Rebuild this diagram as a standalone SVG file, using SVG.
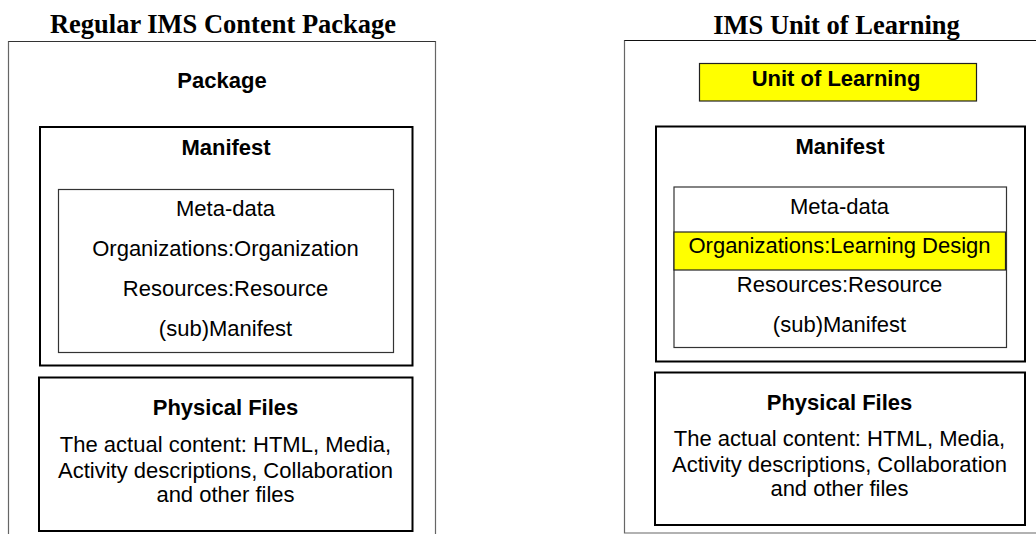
<svg xmlns="http://www.w3.org/2000/svg" width="1036" height="534" viewBox="0 0 1036 534">
<style>
.title{font-family:"Liberation Serif","Times New Roman",serif;font-weight:bold;font-size:26.5px;fill:#000;text-anchor:middle}
.b{font-family:"Liberation Sans",Arial,sans-serif;font-weight:bold;font-size:22px;fill:#000;text-anchor:middle}
.t{font-family:"Liberation Sans",Arial,sans-serif;font-size:22px;fill:#000;text-anchor:middle}
.outer{fill:#fff;stroke:#666;stroke-width:1.2}
.box{fill:#fff;stroke:#000;stroke-width:2}
.inner{fill:#fff;stroke:#333;stroke-width:1.2}
.yel{fill:#ffff00;stroke:#222;stroke-width:1.2}
</style>
<rect width="1036" height="534" fill="#fff"/>
<g id="left-panel">
  <text class="title" x="223" y="33">Regular IMS Content Package</text>
  <path class="outer" d="M8.5,545 V41.5 H435.5 V545"/>
  <path d="M8.5,41.5 H435.5" stroke="#333" stroke-width="1.2" fill="none"/>
  <text class="b" x="222" y="88">Package</text>
</g>
<g id="left-manifest">
  <rect class="box" x="40" y="127" width="372.5" height="238.5"/>
  <text class="b" x="226" y="155">Manifest</text>
</g>
<g id="left-manifest-contents">
  <rect class="inner" x="58.5" y="189.5" width="335" height="163"/>
  <text class="t" x="225.5" y="215.5">Meta-data</text>
  <text class="t" x="225.5" y="256">Organizations:Organization</text>
  <text class="t" x="225.5" y="295.5">Resources:Resource</text>
  <text class="t" x="225.5" y="335.5">(sub)Manifest</text>
</g>
<g id="left-physical-files">
  <rect class="box" x="39" y="377.5" width="373.5" height="153.5"/>
  <text class="b" x="225.5" y="415">Physical Files</text>
  <text class="t" x="225.5" y="451.5">The actual content: HTML, Media,</text>
  <text class="t" x="225.5" y="477.5">Activity descriptions, Collaboration</text>
  <text class="t" x="225.5" y="502">and other files</text>
</g>
<g id="right-panel">
  <text class="title" x="836.5" y="34">IMS Unit of Learning</text>
  <path class="outer" d="M1045,533 H624.5 V40.5 H1045"/>
  <path d="M624.5,40.5 H1045" stroke="#111" stroke-width="1.2" fill="none"/>
</g>
<g id="unit-of-learning">
  <rect class="yel" x="699.5" y="63.5" width="277" height="37.5"/>
  <text class="b" x="836" y="86">Unit of Learning</text>
</g>
<g id="right-manifest">
  <rect class="box" x="656" y="126.5" width="369" height="235"/>
  <text class="b" x="840" y="153.5">Manifest</text>
</g>
<g id="right-manifest-contents">
  <rect class="inner" x="674" y="187" width="332.5" height="160.5"/>
  <rect class="yel" x="674" y="232" width="331.5" height="38"/>
  <text class="t" x="839.5" y="213.5">Meta-data</text>
  <text class="t" x="839.5" y="252.5">Organizations:Learning Design</text>
  <text class="t" x="839.5" y="291.5">Resources:Resource</text>
  <text class="t" x="839.5" y="331.5">(sub)Manifest</text>
</g>
<g id="right-physical-files">
  <rect class="box" x="655" y="372.5" width="370" height="152.5"/>
  <text class="b" x="839.5" y="409.5">Physical Files</text>
  <text class="t" x="839.5" y="446">The actual content: HTML, Media,</text>
  <text class="t" x="839.5" y="472">Activity descriptions, Collaboration</text>
  <text class="t" x="839.5" y="496">and other files</text>
</g>
<g id="connectors"></g>
</svg>
